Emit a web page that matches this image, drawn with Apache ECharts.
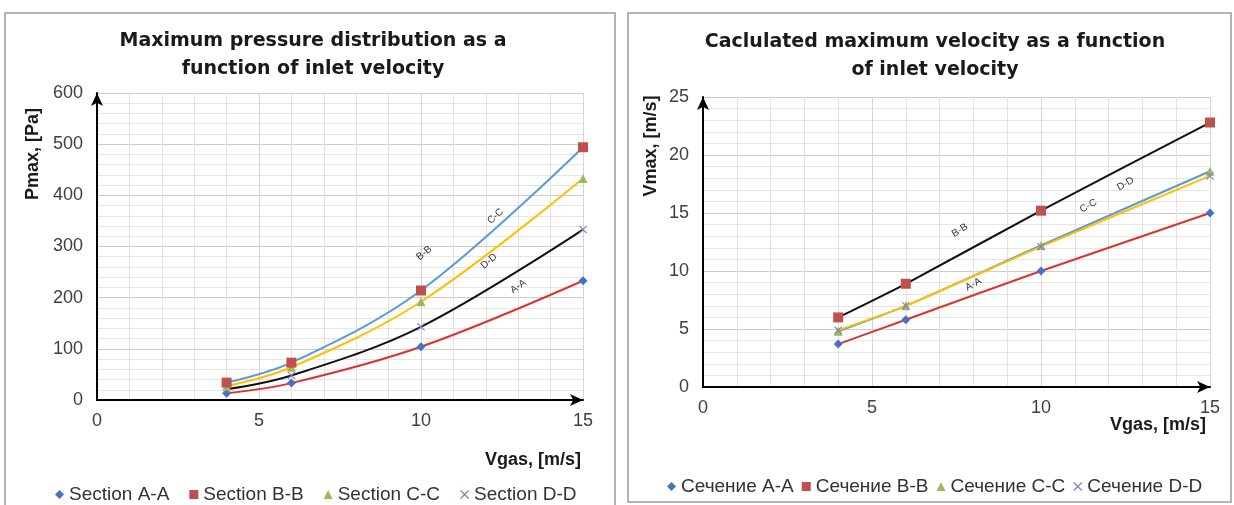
<!DOCTYPE html>
<html>
<head>
<meta charset="utf-8">
<script src="https://cdn.jsdelivr.net/npm/echarts@6/dist/echarts.min.js"></script>
<style>
html, body { margin: 0; padding: 0; background: #fff; }
#main { width: 1234px; height: 505px; }
</style>
</head>
<body>
<div id="main"></div>
<script>
var dom = document.getElementById('main');
var myChart = echarts.init(dom, null, { renderer: 'canvas' });

// inlet velocity, m/s
const vgas = [4, 6, 10, 15];

// maximum pressure, Pa
const pmaxA = [13, 33, 104, 233];
const pmaxB = [34, 73, 214, 494];
const pmaxC = [27, 64, 192, 433];
const pmaxD = [21, 48, 143, 333];

// maximum velocity, m/s
const vmaxA = [3.7, 5.8, 10.0, 15.0];
const vmaxB = [6.0, 8.9, 15.2, 22.8];
const vmaxC = [4.8, 7.0, 12.2, 18.6];
const vmaxD = [4.9, 7.0, 12.1, 18.2];

const namesEn = ['Section A-A', 'Section B-B', 'Section C-C', 'Section D-D'];
const namesRu = ['Сечение A-A', 'Сечение B-B', 'Сечение C-C', 'Сечение D-D'];
const tagNames = ['A-A', 'B-B', 'C-C', 'D-D'];

const crossPath = 'path://M0,1L1,0L5,4L9,0L10,1L6,5L10,9L9,10L5,6L1,10L0,9L4,5Z';
const markers = [
  { symbol: 'diamond', size: 9, color: '#4472C4' },
  { symbol: 'rect', size: 10, color: '#C0504D' },
  { symbol: 'triangle', size: 9, color: '#9BBB59' },
  { symbol: crossPath, size: 8, color: '#8E7CC3' }
];
const lineBlue = '#5B9BD5';
const lineYellow = '#FFC000';
const lineBlack = '#111111';
const lineRed = '#E0302F';

const sans = 'Liberation Sans';
const wide = 'DejaVu Sans';

function pairs(ys) {
  return vgas.map(function (x, i) { return [x, ys[i]]; });
}

function makeSeries(name, ys, m, lineColor, idx, tag) {
  return {
    name: name,
    type: 'line',
    xAxisIndex: idx,
    yAxisIndex: idx,
    data: pairs(ys),
    smooth: idx === 0 ? 0.35 : 0.2,
    symbol: m.symbol,
    symbolSize: m.size,
    itemStyle: { color: m.color },
    lineStyle: { color: lineColor, width: 2 },
    markPoint: {
      symbol: 'rect',
      symbolSize: 1,
      itemStyle: { color: 'rgba(0,0,0,0)' },
      label: {
        show: true,
        formatter: tag.text,
        rotate: tag.rotate,
        fontSize: 10,
        color: '#333',
        fontFamily: sans
      },
      data: [{ coord: tag.coord }]
    }
  };
}

function xAxisOf(idx) {
  return {
    gridIndex: idx,
    type: 'value',
    min: 0,
    max: 15,
    interval: 5,
    axisLine: { show: true, symbol: ['none', 'arrow'], symbolSize: [9, 13], lineStyle: { color: '#000', width: 2 } },
    axisTick: { show: false },
    axisLabel: { fontSize: 18, color: '#404040', margin: 12, fontFamily: sans },
    splitLine: { show: true, lineStyle: { color: '#d4d4d4' } },
    minorTick: { show: false, splitNumber: 5 },
    minorSplitLine: { show: true, lineStyle: { color: '#e2e2e2' } }
  };
}

function yAxisOf(idx, max, interval) {
  return {
    gridIndex: idx,
    type: 'value',
    min: 0,
    max: max,
    interval: interval,
    axisLine: { show: true, symbol: ['none', 'arrow'], symbolSize: [9, 13], lineStyle: { color: '#000', width: 2 } },
    axisTick: { show: false },
    axisLabel: { fontSize: 18, color: '#404040', margin: 14, fontFamily: sans },
    splitLine: { show: true, lineStyle: { color: '#cccccc' } },
    minorTick: { show: false, splitNumber: 5 },
    minorSplitLine: { show: true, lineStyle: { color: '#e6e6e6' } }
  };
}

const titleStyle = { fontSize: 19, fontWeight: 'bold', color: '#1a1a1a', fontFamily: wide, lineHeight: 28 };
const legendText = { fontSize: 19, color: '#333', fontFamily: sans };
const nameStyle = { fontSize: 18, fontWeight: 'bold', fill: '#1a1a1a', fontFamily: sans, textVerticalAlign: 'middle' };

var option = {
  backgroundColor: '#fff',
  animation: false,
  title: [
    { text: 'Maximum pressure distribution as a\nfunction of inlet velocity', left: 308, top: 22, textAlign: 'center', textStyle: titleStyle },
    { text: 'Caclulated maximum velocity as a function\nof inlet velocity', left: 930, top: 23, textAlign: 'center', textStyle: titleStyle }
  ],
  graphic: [
    { type: 'rect', shape: { x: 5, y: 13, width: 610, height: 500 }, style: { fill: 'none', stroke: '#9a9a9a', lineWidth: 1.5 }, silent: true },
    { type: 'rect', shape: { x: 628, y: 13, width: 603, height: 489 }, style: { fill: 'none', stroke: '#9a9a9a', lineWidth: 1.5 }, silent: true },
    { type: 'text', x: 33, y: 154, rotation: Math.PI / 2, style: Object.assign({ text: 'Pmax, [Pa]', textAlign: 'center' }, nameStyle) },
    { type: 'text', x: 651, y: 146, rotation: Math.PI / 2, style: Object.assign({ text: 'Vmax, [m/s]', textAlign: 'center' }, nameStyle) },
    { type: 'text', x: 581, y: 460, style: Object.assign({ text: 'Vgas, [m/s]', textAlign: 'right' }, nameStyle) },
    { type: 'text', x: 1206, y: 425, style: Object.assign({ text: 'Vgas, [m/s]', textAlign: 'right' }, nameStyle) }
  ],
  legend: [
    {
      data: namesEn.map(function (n, i) { return { name: n, icon: markers[i].symbol }; }),
      left: 50, top: 480, itemWidth: 9, itemHeight: 9, itemGap: 20, textStyle: legendText
    },
    {
      data: namesRu.map(function (n, i) { return { name: n, icon: markers[i].symbol }; }),
      left: 662, top: 472, itemWidth: 9, itemHeight: 9, itemGap: 8, textStyle: legendText
    }
  ],
  grid: [
    { left: 97, top: 93, width: 486, height: 307, outerBoundsMode: 'none' },
    { left: 703, top: 97, width: 507, height: 290, outerBoundsMode: 'none' }
  ],
  xAxis: [xAxisOf(0), xAxisOf(1)],
  yAxis: [yAxisOf(0, 600, 100), yAxisOf(1, 25, 5)],
  series: [
    makeSeries(namesEn[0], pmaxA, markers[0], lineRed, 0, { text: tagNames[0], coord: [13.0, 222], rotate: 35 }),
    makeSeries(namesEn[3], pmaxD, markers[3], lineBlack, 0, { text: tagNames[3], coord: [12.1, 271], rotate: 40 }),
    makeSeries(namesEn[2], pmaxC, markers[2], lineYellow, 0, { text: tagNames[2], coord: [12.3, 359], rotate: 42 }),
    makeSeries(namesEn[1], pmaxB, markers[1], lineBlue, 0, { text: tagNames[1], coord: [10.1, 287], rotate: 40 }),
    makeSeries(namesRu[0], vmaxA, markers[0], lineRed, 1, { text: tagNames[0], coord: [8.0, 8.85], rotate: 30 }),
    makeSeries(namesRu[1], vmaxB, markers[1], lineBlack, 1, { text: tagNames[1], coord: [7.6, 13.5], rotate: 32 }),
    makeSeries(namesRu[2], vmaxC, markers[2], lineBlue, 1, { text: tagNames[2], coord: [11.4, 15.6], rotate: 30 }),
    makeSeries(namesRu[3], vmaxD, markers[3], lineYellow, 1, { text: tagNames[3], coord: [12.5, 17.5], rotate: 30 })
  ]
};

myChart.setOption(option);
window.addEventListener('resize', myChart.resize);
</script>
</body>
</html>
